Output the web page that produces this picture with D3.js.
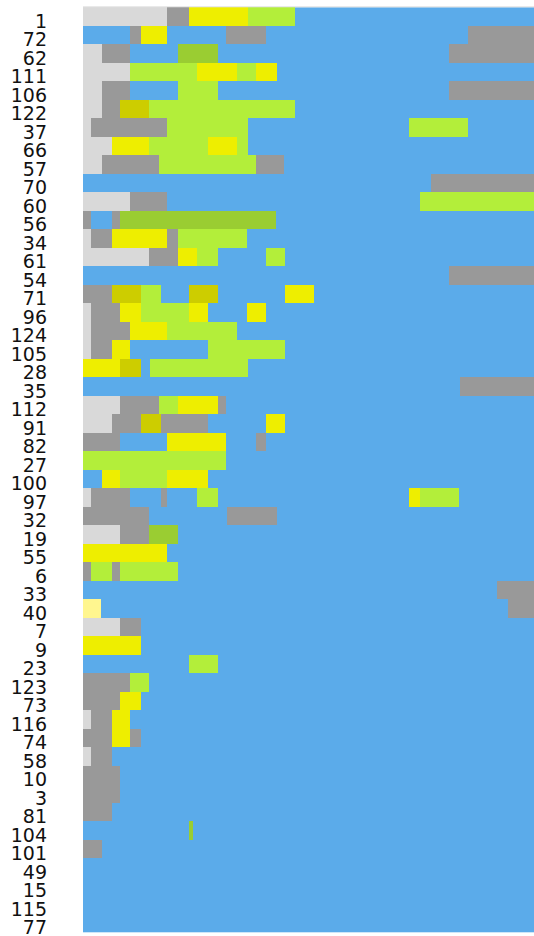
<!DOCTYPE html>
<html><head><meta charset="utf-8">
<script src="https://cdn.jsdelivr.net/npm/d3@7"></script>
<style>html,body{margin:0;padding:0;background:#fff;}svg{display:block;}</style>
</head><body>
<svg id="chart" width="534" height="936"></svg>
<script>
// Row labels (top to bottom)
const rowLabels = ["1","72","62","111","106","122","37","66","57","70","60","56","34","61","54","71","96","124","105","28","35","112","91","82","27","100","97","32","19","55","6","33","40","7","9","23","123","73","116","74","58","10","3","81","104","101","49","15","115","77"];

// States and colours (blue = default / background state)
const stateKeys = ["LG","G","Y","L","D","O","P"];
const stateColors = ["#d9d9d9","#999999","#eeee00","#b3ee3a","#9acd32","#cdcd00","#fff68f"];
const baseColor = "#5babea";
const timeDomain = [0, 47];

// Segments per row: [start, end, state]
const segments = [
 [[0,8.78,"LG"],[8.78,11.08,"G"],[11.08,17.16,"Y"],[17.16,22.09,"L"]],
 [[4.93,6.04,"G"],[6.04,8.78,"Y"],[14.95,19.07,"G"],[40.15,47,"G"]],
 [[0,1.95,"LG"],[1.95,4.93,"G"],[9.93,14.1,"D"],[38.17,47,"G"]],
 [[0,4.93,"LG"],[4.93,11.91,"L"],[11.91,16.05,"Y"],[16.05,18.0,"L"],[18.0,20.19,"Y"]],
 [[0,1.95,"LG"],[1.95,4.93,"G"],[9.93,14.1,"L"],[38.17,47,"G"]],
 [[0,1.95,"LG"],[1.95,3.86,"G"],[3.86,6.91,"O"],[6.91,22.09,"L"]],
 [[0,0.83,"LG"],[0.83,8.78,"G"],[8.78,17.16,"L"],[34.0,40.1,"L"]],
 [[0,3.02,"LG"],[3.02,6.91,"Y"],[6.91,12.99,"L"],[12.99,16.05,"Y"],[16.05,17.16,"L"]],
 [[0,1.95,"LG"],[1.95,7.95,"G"],[7.95,18.0,"L"],[18.0,20.97,"G"]],
 [[36.27,47,"G"]],
 [[0,4.93,"LG"],[4.93,8.78,"G"],[35.12,47,"L"]],
 [[0,0.83,"G"],[3.02,3.86,"G"],[3.86,20.14,"D"]],
 [[0,0.83,"LG"],[0.83,3.02,"G"],[3.02,8.78,"Y"],[8.78,9.93,"G"],[9.93,17.12,"L"]],
 [[0,6.91,"LG"],[6.91,9.93,"G"],[9.93,11.91,"Y"],[11.91,14.1,"L"],[19.1,21.0,"L"]],
 [[38.17,47,"G"]],
 [[0,3.02,"G"],[3.02,6.04,"O"],[6.04,8.1,"L"],[11.08,14.1,"O"],[21.0,24.04,"Y"]],
 [[0,0.83,"LG"],[0.83,3.86,"G"],[3.86,6.04,"Y"],[6.04,11.08,"L"],[11.08,12.99,"Y"],[17.12,19.07,"Y"]],
 [[0,0.83,"LG"],[0.83,4.93,"G"],[4.93,8.78,"Y"],[8.78,16.05,"L"]],
 [[0,0.83,"LG"],[0.83,3.02,"G"],[3.02,4.93,"Y"],[12.99,21.02,"L"]],
 [[0,3.86,"Y"],[3.86,6.04,"O"],[6.95,17.16,"L"]],
 [[39.29,47,"G"]],
 [[0,3.86,"LG"],[3.86,7.95,"G"],[7.95,9.93,"L"],[9.93,14.1,"Y"],[14.1,14.92,"G"]],
 [[0,3.02,"LG"],[3.02,6.04,"G"],[6.04,8.1,"O"],[8.1,12.99,"G"],[19.1,21.0,"Y"]],
 [[0,3.86,"G"],[8.78,14.92,"Y"],[18.0,19.07,"G"]],
 [[0,14.92,"L"]],
 [[1.95,3.86,"Y"],[3.86,8.78,"L"],[8.78,12.99,"Y"]],
 [[0,0.83,"LG"],[0.83,4.93,"G"],[8.1,8.78,"G"],[11.91,14.1,"L"],[34.0,35.12,"Y"],[35.12,39.21,"L"]],
 [[0,6.91,"G"],[14.98,20.19,"G"]],
 [[0,3.86,"LG"],[3.86,6.91,"G"],[6.91,9.93,"D"]],
 [[0,8.78,"Y"]],
 [[0,0.83,"G"],[0.83,3.02,"L"],[3.02,3.86,"G"],[3.86,9.93,"L"]],
 [[43.14,47,"G"]],
 [[0,1.9,"P"],[44.26,47,"G"]],
 [[0,3.86,"LG"],[3.86,6.04,"G"]],
 [[0,6.04,"Y"]],
 [[11.08,14.1,"L"]],
 [[0,4.93,"G"],[4.93,6.91,"L"]],
 [[0,3.86,"G"],[3.86,6.04,"Y"]],
 [[0,0.83,"LG"],[0.83,3.02,"G"],[3.02,4.93,"Y"]],
 [[0,3.02,"G"],[3.02,4.93,"Y"],[4.93,6.04,"G"]],
 [[0,0.83,"LG"],[0.83,3.02,"G"]],
 [[0,3.86,"G"]],
 [[0,3.86,"G"]],
 [[0,3.02,"G"]],
 [[11.08,11.46,"D"]],
 [[0,1.95,"G"]],
 [],[],[],[]
];

const svg = d3.select("#chart");
const margin = {left: 83, top: 7.3, right: 0, bottom: 3.7};
const W = 534, H = 936;

const x = d3.scaleLinear().domain(timeDomain).range([margin.left, W - margin.right]);
const y = d3.scaleBand().domain(rowLabels).range([margin.top, H - margin.bottom]).padding(0);
const color = d3.scaleOrdinal().domain(stateKeys).range(stateColors);

// Base (default state) for whole plot area
svg.append("rect")
  .attr("x", x(timeDomain[0])).attr("width", x(timeDomain[1]) - x(timeDomain[0]))
  .attr("y", y.range()[0]).attr("height", y.range()[1] - y.range()[0])
  .attr("fill", baseColor);

// Segments
const flat = [];
segments.forEach((row, i) => row.forEach(s => flat.push({row: rowLabels[i], start: s[0], end: s[1], state: s[2]})));
svg.append("g").attr("shape-rendering", "crispEdges")
  .selectAll("rect").data(flat).join("rect")
  .attr("x", d => x(d.start)).attr("width", d => x(d.end) - x(d.start))
  .attr("y", d => y(d.row)).attr("height", y.bandwidth())
  .attr("fill", d => color(d.state));

// top border line
svg.append("line").attr("x1", x(timeDomain[0])).attr("x2", x(timeDomain[1]))
  .attr("y1", margin.top - 0.5).attr("y2", margin.top - 0.5)
  .attr("stroke", "#e0e0e0").attr("stroke-width", 1);

// Row labels
const yAxis = d3.axisLeft(y).tickSize(0).tickPadding(36);
const ga = svg.append("g").attr("transform", `translate(${margin.left},0)`).call(yAxis);
ga.select(".domain").remove();
ga.selectAll("text")
  .attr("font-family", "DejaVu Sans, Verdana, sans-serif")
  .attr("font-size", 19)
  .attr("fill", "#111")
  .attr("dy", "0.58em");
</script>
</body></html>
